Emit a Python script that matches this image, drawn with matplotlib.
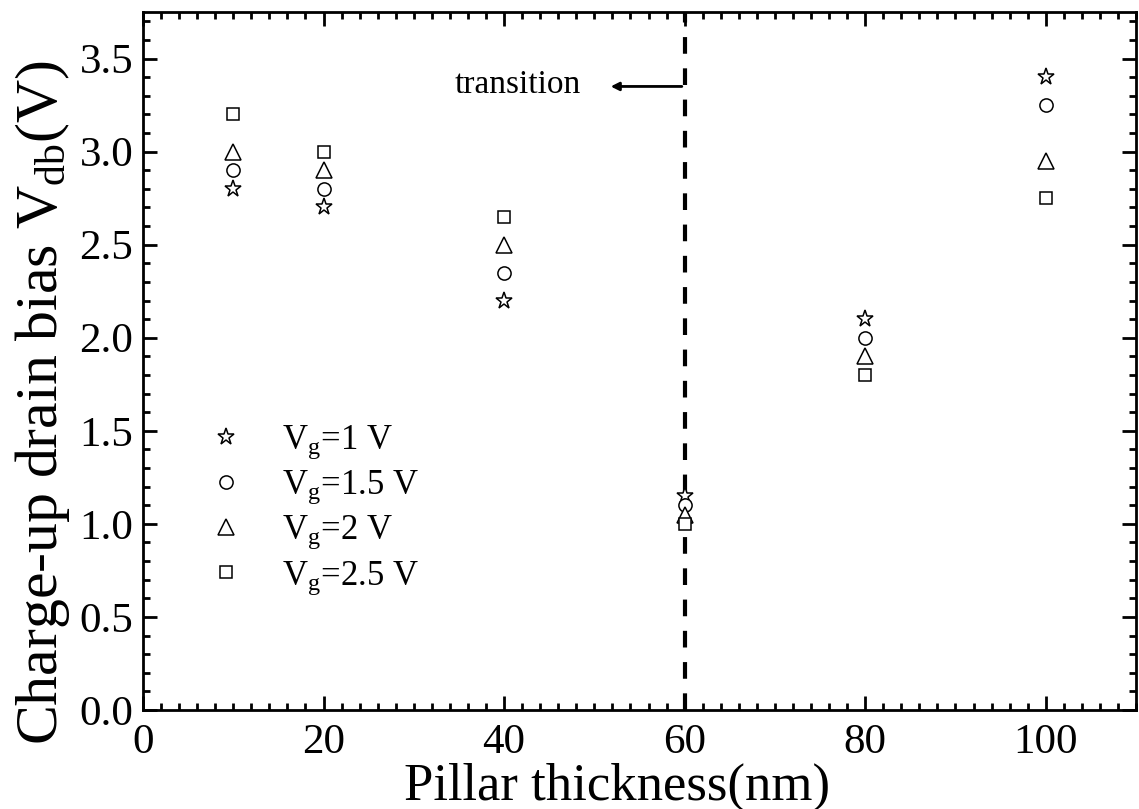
import numpy as np
import matplotlib.pyplot as plt
from matplotlib.ticker import MultipleLocator

plt.rcParams['font.family'] = 'Liberation Serif'
plt.rcParams['mathtext.fontset'] = 'custom'
plt.rcParams['mathtext.rm'] = 'Liberation Serif'
plt.rcParams['mathtext.it'] = 'Liberation Serif'

# Data
thickness = [10, 20, 40, 60, 80, 100]
vg1 = [2.8, 2.7, 2.2, 1.15, 2.1, 3.4]
vg15 = [2.9, 2.8, 2.35, 1.1, 2.0, 3.25]
vg2 = [3.0, 2.9, 2.5, 1.05, 1.9, 2.95]
vg25 = [3.2, 3.0, 2.65, 1.0, 1.8, 2.75]

labels = [r'V$_{\mathrm{g}}$=1 V', r'V$_{\mathrm{g}}$=1.5 V',
          r'V$_{\mathrm{g}}$=2 V', r'V$_{\mathrm{g}}$=2.5 V']
markers = ['*', 'o', '^', 's']
sizes = [12.5, 9.5, 11, 9]

fig = plt.figure(figsize=(11.39, 8.09), dpi=100)
ax = fig.add_axes([143 / 1139, 1 - 710 / 809, (1136 - 143) / 1139, (710 - 12) / 809])

for ys, m, s, lab in zip([vg1, vg15, vg2, vg25], markers, sizes, labels):
    ax.plot(thickness, ys, linestyle='none', marker=m, markersize=s,
            markerfacecolor='white', markeredgecolor='black', markeredgewidth=1.1,
            label=lab)

# transition line and arrow
ax.axvline(60, color='black', linestyle=(0, (4, 3.5)), linewidth=3, zorder=0)
ax.annotate('', xy=(51.5, 3.35), xytext=(60, 3.35),
            arrowprops=dict(arrowstyle='-|>', color='black', lw=2, mutation_scale=12))
ax.text(48.5, 3.36, 'transition', fontsize=24, ha='right', va='center')

ax.set_xlim(0, 110)
ax.set_ylim(0, 3.75)
ax.xaxis.set_major_locator(MultipleLocator(20))
ax.xaxis.set_minor_locator(MultipleLocator(2))
ax.yaxis.set_major_locator(MultipleLocator(0.5))
ax.yaxis.set_minor_locator(MultipleLocator(0.1))
ax.set_xticks([0, 20, 40, 60, 80, 100])
ax.yaxis.set_major_formatter(plt.FormatStrFormatter('%.1f'))
ax.tick_params(which='both', direction='in', top=True, right=True, width=2)
ax.tick_params(which='major', length=10, labelsize=31, pad=7)
ax.tick_params(axis='x', which='major', pad=10)
ax.tick_params(which='minor', length=5)
for sp in ax.spines.values():
    sp.set_linewidth(2)

ax.set_xlabel('Pillar thickness(nm)', fontsize=38)
ax.xaxis.set_label_coords(0.477, -0.075)
ax.set_ylabel(r'Charge-up drain bias V$_{\mathrm{db}}$(V)', fontsize=43)
ax.yaxis.set_label_coords(-0.072, 0.44)

ax.legend(loc='upper left', bbox_to_anchor=(0.035, 0.455), frameon=False,
          fontsize=25, handlelength=1.0, handletextpad=1.1, labelspacing=0.22)

fig.savefig('out.png', dpi=100)
